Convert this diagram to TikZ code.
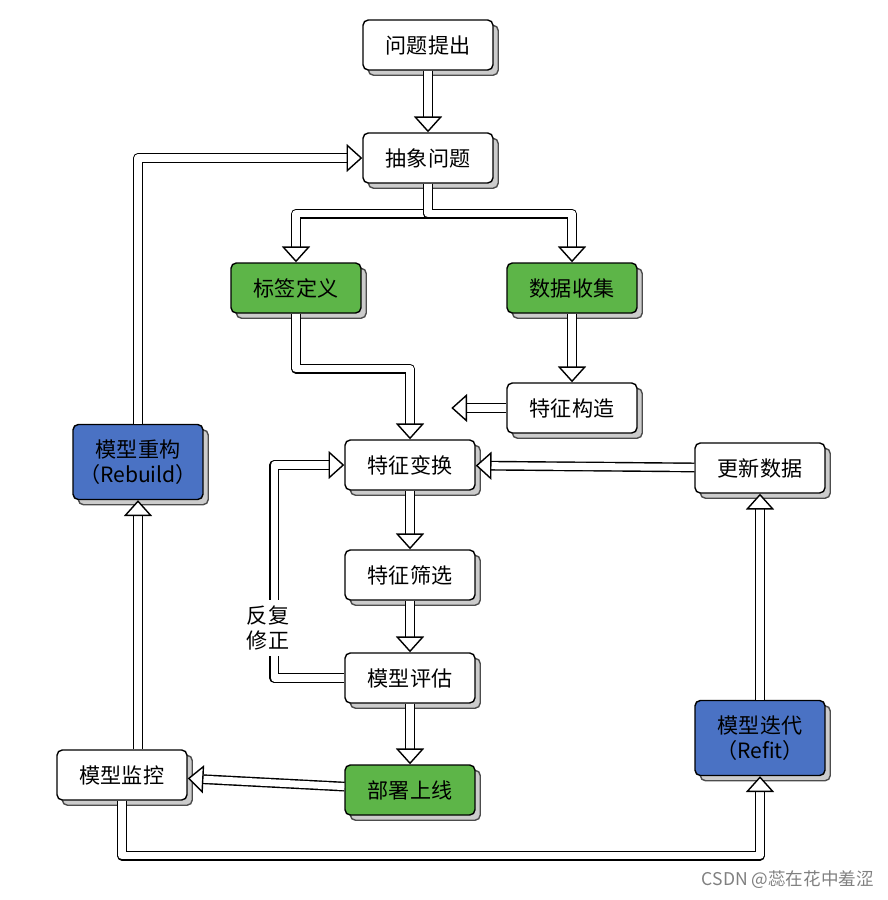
\documentclass[tikz,border=0pt]{standalone}
\usepackage{fontspec}
\setmainfont{Noto Sans CJK SC}
\usetikzlibrary{arrows.meta,shadows,calc}
\definecolor{stepgreen}{HTML}{5DB548}
\definecolor{stepblue}{HTML}{4A72C4}
\begin{document}
\begin{tikzpicture}[
    x=0.02cm, y=-0.02cm,
    stage/.style={rectangle, draw, thick, fill=white, rounded corners=3pt, minimum width=2.6cm, minimum height=1cm, font=\large, align=center,
      copy shadow={shadow xshift=3pt, shadow yshift=-3pt, fill=gray!40, draw=black!70}},
    greenstage/.style={stage, fill=stepgreen},
    bluestage/.style={stage, fill=stepblue, minimum height=1.5cm},
    fat/.style={draw=black, thick, double=white, double distance=4pt, line join=round,
      -{Triangle[open, length=9pt, width=16pt, fill=white]}}
]
\useasboundingbox (0,0) rectangle (888,900);

% Main chain
\node[stage] (ask) at (428,45) {问题提出};
\node[stage] (abstract) at (428,158) {抽象问题};
\node[greenstage] (label) at (296,288) {标签定义};
\node[greenstage] (collect) at (572,288) {数据收集};
\node[stage] (construct) at (572,408) {特征构造};
\node[stage] (transform) at (410,465) {特征变换};
\node[stage] (update) at (760,468) {更新数据};
\node[stage] (select) at (410,575) {特征筛选};
\node[stage] (evaluate) at (410,678) {模型评估};
\node[greenstage] (deploy) at (410,790) {部署上线};

% Monitoring side
\node[stage] (monitor) at (122,775) {模型监控};
\node[bluestage] (rebuild) at (138,462) {模型重构\\（Rebuild）};
\node[bluestage] (refit) at (760,738) {模型迭代\\（Refit）};

% Arrows
\draw[fat] (ask) -- (abstract);
\draw[fat] (abstract.south) -- ++(0,30) -| (label.north);
\draw[fat] (abstract.south) -- ++(0,30) -| (collect.north);
\draw[fat] (label.south) -- ++(0,55) -| (transform.north);
\draw[fat] (collect) -- (construct);
\draw[fat] (construct.west) -- ++(-55,0);
\draw[fat] (update) -- (transform);
\draw[fat] (transform) -- (select);
\draw[fat] (select) -- (evaluate);
\draw[fat] (evaluate) -- (deploy);
\draw[fat] (evaluate.west) -- ++(-70,0) |- (transform.west);
\node[fill=white, align=center, font=\large] (fix) at (268,628) {反复\\修正};
\draw[fat] (deploy) -- (monitor);
\draw[fat] (monitor.north -| rebuild) -- (rebuild);
\draw[fat] (rebuild.north) |- (abstract.west);
\draw[fat] (monitor.south) -- ++(0,55) -| (refit.south);
\draw[fat] (refit) -- (update);

% Watermark
\node[text=gray, font=\normalsize, anchor=south east] (mark) at (880,895) {CSDN @蕊在花中羞涩};
\end{tikzpicture}
\end{document}
